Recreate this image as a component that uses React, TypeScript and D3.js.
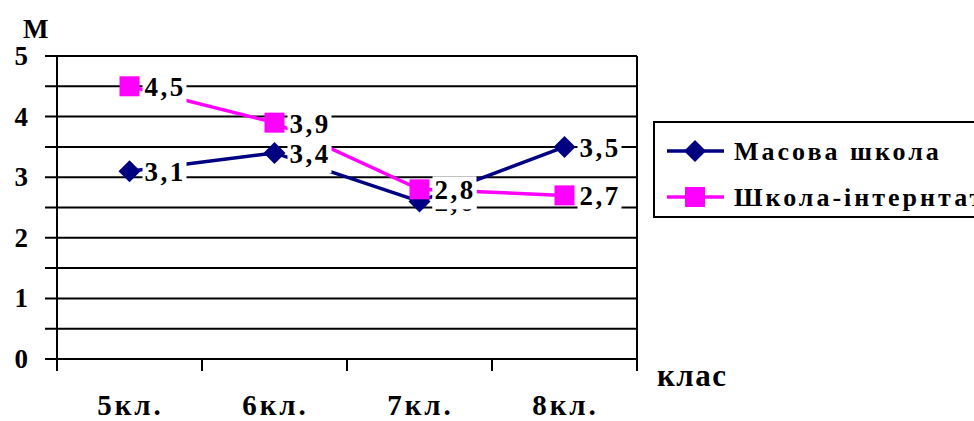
import React from "react";
import * as d3 from "d3";

const categories = ["5кл.", "6кл.", "7кл.", "8кл."];
const masova = [3.1, 3.4, 2.6, 3.5];
const internat = [4.5, 3.9, 2.8, 2.7];
const yTicks = [0, 1, 2, 3, 4, 5];
const seriesNames = ["Масова школа", "Школа-інтернтат"];

const W = 974;
const H = 421;
const FONT = "Liberation Serif";
const NAVY = "#000080";
const MAGENTA = "#FF00FF";

const x = d3.scaleBand<string>().domain(categories).range([57, 637]);
const y = d3.scaleLinear().domain([0, 5]).range([359, 56]);
const cx = (c: string) => (x(c) as number) + x.bandwidth() / 2;

const gridValues = d3.range(0, 5.001, 0.5);

const textStyle = (size: number, spacing = 0): React.CSSProperties => ({
  fontFamily: FONT,
  fontWeight: "bold",
  fontSize: size,
  letterSpacing: spacing,
});

function Diamond({ px, py, r }: { px: number; py: number; r: number }) {
  return (
    <path
      d={`M${px},${py - r}L${px + r},${py}L${px},${py + r}L${px - r},${py}Z`}
      fill={NAVY}
    />
  );
}

function Square({ px, py, s }: { px: number; py: number; s: number }) {
  return <rect x={px - s / 2} y={py - s / 2} width={s} height={s} fill={MAGENTA} />;
}

function ValueLabel({ px, py, v }: { px: number; py: number; v: number }) {
  const txt = d3.format(".1f")(v).replace(".", ",");
  const lx = px + 15;
  return (
    <g>
      <rect x={lx - 2} y={py - 13} width={44} height={33} fill="#fff" />
      <text x={lx} y={py + 10} style={textStyle(27, 2.5)} fill="#000">
        {txt}
      </text>
    </g>
  );
}

export default function App() {
  const line = d3
    .line<number>()
    .x((_, i) => cx(categories[i]))
    .y((d) => y(d));

  return (
    <svg
      width={W}
      height={H}
      style={{ position: "absolute", left: 0, top: 0, background: "#fff" }}
    >
      {/* horizontal gridlines with left ticks */}
      {gridValues.map((g) => (
        <line key={g} x1={45} x2={637} y1={y(g)} y2={y(g)} stroke="#000" strokeWidth={2} />
      ))}
      {/* value axis */}
      <line x1={57} x2={57} y1={56} y2={371} stroke="#000" strokeWidth={2} />
      {/* right edge of plot */}
      <line x1={637} x2={637} y1={56} y2={371} stroke="#000" strokeWidth={2} />
      {/* category ticks */}
      {categories.slice(1).map((c) => (
        <line key={c} x1={x(c)} x2={x(c)} y1={359} y2={371} stroke="#000" strokeWidth={2} />
      ))}

      {yTicks.map((t) => (
        <text key={t} x={28} y={y(t) + 9} textAnchor="end" style={textStyle(27)}>
          {t}
        </text>
      ))}
      <text x={23} y={38} style={textStyle(27)}>
        М
      </text>

      {categories.map((c) => (
        <text key={c} x={cx(c) + 1} y={415} textAnchor="middle" style={textStyle(29, 3)}>
          {c}
        </text>
      ))}
      <text x={657} y={386} style={textStyle(31, 1.5)}>
        клас
      </text>

      {/* series */}
      <path d={line(masova) ?? ""} fill="none" stroke={NAVY} strokeWidth={3.5} />
      {masova.map((v, i) => (
        <Diamond key={i} px={cx(categories[i])} py={y(v)} r={11} />
      ))}
      <path d={line(internat) ?? ""} fill="none" stroke={MAGENTA} strokeWidth={3.5} />
      {internat.map((v, i) => (
        <Square key={i} px={cx(categories[i])} py={y(v)} s={20} />
      ))}

      {masova.map((v, i) => (
        <ValueLabel key={"m" + i} px={cx(categories[i])} py={y(v)} v={v} />
      ))}
      {internat.map((v, i) => (
        <ValueLabel key={"p" + i} px={cx(categories[i])} py={y(v)} v={v} />
      ))}

      {/* legend */}
      <rect x={654} y={122} width={340} height={95} fill="#fff" stroke="#000" strokeWidth={2} />
      <line x1={667} x2={724} y1={151} y2={151} stroke={NAVY} strokeWidth={3.5} />
      <Diamond px={695} py={151} r={11} />
      <text x={734} y={160} style={textStyle(26, 3)}>
        {seriesNames[0]}
      </text>
      <line x1={667} x2={724} y1={197} y2={197} stroke={MAGENTA} strokeWidth={3.5} />
      <Square px={695} py={197} s={20} />
      <text x={734} y={206} style={textStyle(26, 3)}>
        {seriesNames[1]}
      </text>
    </svg>
  );
}
